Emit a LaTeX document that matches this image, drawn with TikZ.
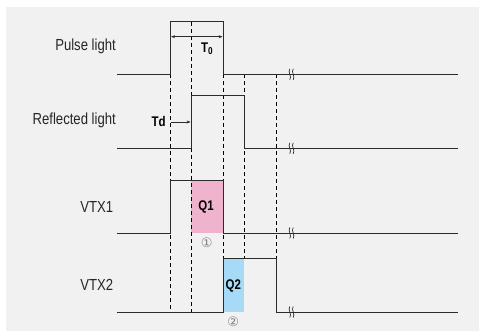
\documentclass[tikz,border=0pt]{standalone}
\usepackage{fontspec}
\setmainfont{Liberation Sans}[FakeStretch=0.82]
\newfontfamily\symfont{DejaVu Sans}
\usepackage{tikz}
\usetikzlibrary{arrows.meta,positioning,calc}
\usepackage{xcolor}
\definecolor{bggray}{HTML}{F1F1F1}
\definecolor{qpink}{HTML}{F0B3CE}
\definecolor{qblue}{HTML}{A7DAF6}
\definecolor{sigline}{HTML}{2B2B2B}
\tikzset{
  wave/.style={sigline, line width=1pt},
  guide/.style={black, line width=0.9pt, dash pattern=on 4pt off 3pt},
  span/.style={sigline, line width=0.6pt, {Stealth[length=4pt,width=3pt]}-{Stealth[length=4pt,width=3pt]}},
  lbl/.style={text=black!85, inner sep=0pt, font=\fontsize{16}{18}\selectfont},
  tag/.style={text=black, inner sep=0pt, font=\bfseries\fontsize{14}{16}\selectfont},
  num/.style={text=gray, inner sep=0pt, font=\symfont\fontsize{13}{14}\selectfont}
}

\begin{document}
\begin{tikzpicture}[x=1pt,y=-1pt]
                    \useasboundingbox (0,0) rectangle (479,331);
                    \fill[bggray] (6,7) rectangle (479,331);
                    % charge windows
                    \fill[qpink] (191.3,180.3) rectangle (223.3,233);
                    \fill[qblue] (223.3,258.7) rectangle (244.3,312);
                    % timing guides
                    \draw[guide] (170.3,74.3) -- (170.3,312);
                    \draw[guide] (191.3,22) -- (191.3,312);
                    \draw[guide] (223.3,74.3) -- (223.3,312);
                    \draw[guide] (244.3,74.3) -- (244.3,258.7);
                    \draw[guide] (276.3,74.3) -- (276.3,258.7);
                    % signals
                    \foreach \lo/\hi/\up/\dn in {74.3/21.3/170.3/223.3, 148.3/95.7/191.3/244.3,
                                                 233/180.3/170.3/223.3, 312/258.7/223.3/276.3} {
                        \draw[wave] (117.3,\lo) -| (\up,\hi) -| (\dn,\lo) -- (457.7,\lo);
                        \foreach \bx in {289.8,293.2} {
                            \draw[sigline, line width=0.7pt] (\bx,\lo-5.5) .. controls (\bx-2.5,\lo-2) and (\bx+2.5,\lo+2) .. (\bx,\lo+5.5);
                        }
                    }
                    % labels
                    \node[lbl, anchor=east] (pulse) at (116,46.7) {Pulse light};
                    \node[lbl, anchor=east] (refl) at (116,120.7) {Reflected light};
                    \node[lbl] (vtx1) at (96.7,206.7) {VTX1};
                    \node[lbl] (vtx2) at (96.7,285) {VTX2};
                    % widths
                    \coordinate (t0l) at (171,36.7);
                    \coordinate (t0r) at (222.6,36.7);
                    \draw[span] (t0l) -- (t0r);
                    \node[tag] (t0) at (207,48.7) {T\raisebox{-1.5pt}{\fontsize{10}{10}\selectfont 0}};
                    \coordinate (tdl) at (170.3,122);
                    \coordinate (tdr) at (190.6,122);
                    \draw[span, {Bar[width=0pt]}-{Stealth[length=4pt,width=3pt]}] (tdl) -- (tdr);
                    \node[tag] (td) at (158.7,121.7) {Td};
                    \node[tag] (q1) at (206,206.7) {Q1};
                    \node[tag] (q2) at (233.3,285.7) {Q2};
                    \node[num] (n1) at (206.7,242.3) {①};
                    \node[num] (n2) at (233.3,321.7) {②};
                \end{tikzpicture}
\end{document}
